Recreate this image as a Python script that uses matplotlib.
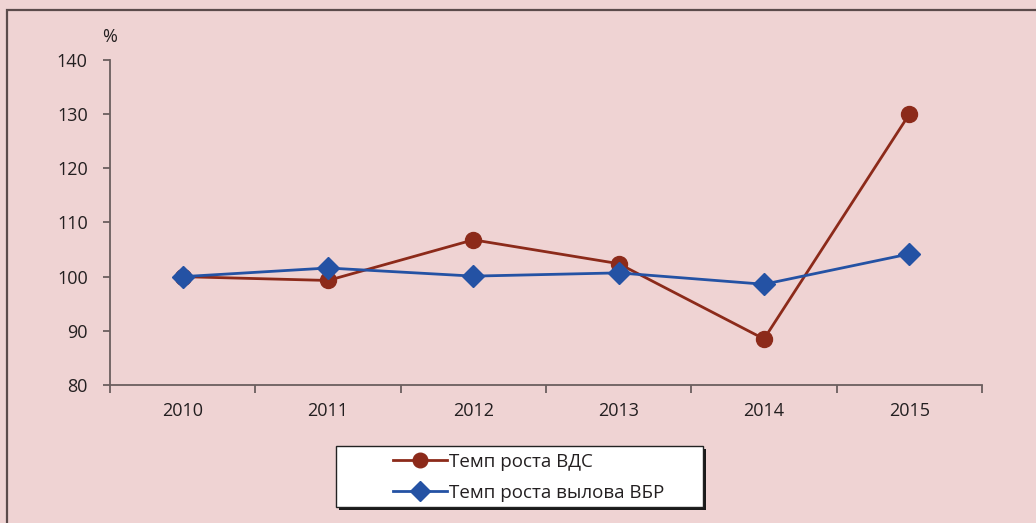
import matplotlib
matplotlib.use('Agg')
import matplotlib.pyplot as plt
from matplotlib.patches import Rectangle
from matplotlib.lines import Line2D

years = ['2010', '2011', '2012', '2013', '2014', '2015']
vds = [100.0, 99.3, 106.8, 102.4, 88.5, 130.0]
vbr = [100.0, 101.6, 100.1, 100.7, 98.6, 104.2]
labels = ['Темп роста ВДС', 'Темп роста вылова ВБР']

bg = '#efd3d3'
red = '#8c2a1a'
blue = '#2452a4'
dark = '#231f20'
axcol = '#6b5e5e'

plt.rcParams['font.family'] = ['Open Sans', 'DejaVu Sans']
plt.rcParams['font.size'] = 13

fig = plt.figure(figsize=(10.36, 5.23), dpi=100, facecolor=bg)
W, H = 1036, 523

# outer frame (runs off the right and bottom edges)
fig.patches.append(Rectangle((7 / W, -0.1), 1.1, 1.1 - 10 / H, transform=fig.transFigure,
                             fill=False, edgecolor='#5b4b4b', linewidth=1.6))

ax = fig.add_axes([110 / W, 1 - 385 / H, 872 / W, 325 / H])
ax.set_facecolor(bg)
x = range(len(years))
ax.plot(x, vds, '-o', color=red, lw=2.0, markersize=11.5, label=labels[0], zorder=3)
ax.plot(x, vbr, '-D', color=blue, lw=2.0, markersize=11.5, label=labels[1], zorder=4)

ax.set_xlim(-0.5, 5.5)
ax.set_ylim(80, 140)
ax.set_yticks(range(80, 141, 10))
ax.set_xticks([i - 0.5 for i in range(7)])
ax.set_xticklabels([])
ax.set_xticks(list(x), minor=True)
ax.set_xticklabels(years, minor=True)
ax.tick_params(axis='x', which='minor', length=0, pad=12, labelcolor=dark)
ax.tick_params(axis='x', which='major', length=6, width=1.3, color=axcol)
ax.tick_params(axis='y', length=5, width=1.3, color=axcol, labelcolor=dark, pad=11)
for s in ['top', 'right']:
    ax.spines[s].set_visible(False)
for s in ['left', 'bottom']:
    ax.spines[s].set_color(axcol)
    ax.spines[s].set_linewidth(1.3)

fig.text(110 / W, 1 - 37 / H, '%', ha='center', va='center', color=dark, fontsize=13)

# legend box with a solid shadow
sh = Rectangle((339 / W, 1 - 510 / H), 367 / W, 61 / H, transform=fig.transFigure,
               facecolor='#1a1a1a', edgecolor='none', zorder=4)
box = Rectangle((336 / W, 1 - 507 / H), 367 / W, 61 / H, transform=fig.transFigure,
                facecolor='white', edgecolor='#222222', linewidth=1.0, zorder=5)
fig.patches.append(sh)
fig.patches.append(box)

handles = [Line2D([], [], color=red, lw=2.0, marker='o', markersize=10.5),
           Line2D([], [], color=blue, lw=2.0, marker='D', markersize=10)]
leg = fig.legend(handles, labels, loc='upper left', bbox_to_anchor=(386 / W, 1 - 446 / H),
                 frameon=False, handlelength=2.9, handletextpad=0.1, labelspacing=0.7,
                 borderpad=0.35, borderaxespad=0, fontsize=13.5)
leg.set_zorder(6)
for t in leg.get_texts():
    t.set_color(dark)

fig.savefig('out.png', dpi=100, facecolor=bg)
